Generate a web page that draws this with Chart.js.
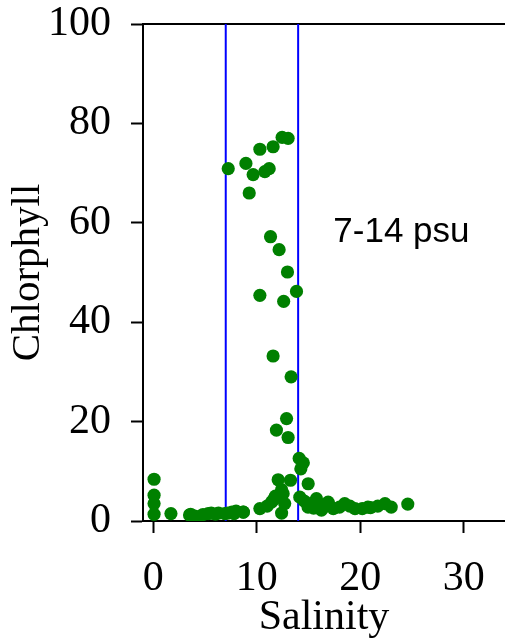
<!DOCTYPE html>
<html>
<head>
<meta charset="utf-8">
<script src="https://cdn.jsdelivr.net/npm/chart.js@4/dist/chart.umd.min.js"></script>
<style>
  html, body { margin: 0; padding: 0; background: #fff; }
  #wrap { width: 505px; height: 643px; }
</style>
</head>
<body>
<div id="wrap"><canvas id="salChart"></canvas></div>
<script>
// salinity (psu) of each sample
const salinity = [
    0.07, 0.07, 0.07, 0.07, 1.7, 3.5, 3.6, 4.0, 4.35, 4.8, 5.3, 5.6, 6.0, 6.3, 6.9, 7.2, 7.6, 7.8, 8.0, 8.7, 8.7,
    7.24, 8.95, 9.65, 9.27, 10.3, 11.58, 10.78, 11.2, 12.45, 13.03,
    11.33, 12.16, 12.97, 10.3, 12.6, 13.84,
    11.58, 13.32, 12.88, 11.9, 13.03,
    14.1, 14.5, 14.26, 12.07, 13.26, 14.97, 12.4, 14.16, 11.58, 12.7, 10.3, 12.4, 11.43, 12.55, 11.0, 11.8,
    15.77, 14.96, 16.1, 16.9, 17.4, 18.5, 19.5, 20.75, 21.7, 22.4, 23.0, 24.6, 16.25,
    14.6, 15.2, 15.5, 16.5, 17.0, 18.0, 19.0, 20.2, 21.0
];
// chlorophyll of each sample
const chlorophyll = [
    8.4, 5.2, 3.5, 1.35, 1.5, 1.2, 1.35, 1.0, 0.8, 1.3, 1.5, 1.6, 1.4, 1.6, 1.5, 1.6, 1.8, 1.5, 2.0, 1.8, 1.8,
    70.9, 71.95, 69.7, 66.0, 74.8, 75.3, 70.3, 70.9, 77.2, 77.0,
    57.2, 54.6, 50.1, 45.4, 44.2, 46.2,
    33.2, 29.0, 20.6, 18.3, 16.8,
    12.6, 11.7, 10.5, 8.3, 8.2, 7.5, 6.3, 4.8, 4.2, 3.5, 2.5, 1.6, 3.8, 5.5, 3.0, 5.0,
    4.5, 2.8, 3.2, 3.8, 2.5, 3.5, 2.5, 2.8, 3.0, 3.5, 2.8, 3.4, 2.2,
    4.0, 3.5, 2.6, 2.8, 3.2, 2.8, 3.0, 2.5, 2.7
];
// salinity window marked with the two blue lines
const windowBounds = [7, 14];
const windowLabel = '7-14 psu';
const xTicks = [0, 10, 20, 30];
const yTicks = [0, 20, 40, 60, 80, 100];

const serif = 'Liberation Serif';

const windowText = {
    id: 'windowText',
    afterDatasetsDraw(chart) {
        const ctx = chart.ctx;
        ctx.save();
        ctx.font = '35px "Liberation Sans"';
        ctx.fillStyle = '#000';
        ctx.textAlign = 'left';
        ctx.textBaseline = 'alphabetic';
        ctx.fillText(windowLabel, chart.scales.x.getPixelForValue(17.4), chart.scales.y.getPixelForValue(56.1));
        ctx.restore();
    }
};

function drawScatter() {
    const ctx = document.getElementById('salChart').getContext('2d');
    const points = salinity.map((s, i) => ({ x: s, y: chlorophyll[i] }));
    const lines = windowBounds.map(b => ({
        type: 'line',
        data: [{ x: b, y: 0 }, { x: b, y: 100 }],
        borderColor: '#0000ff',
        borderWidth: 2,
        pointRadius: 0,
        order: 2
    }));

    new Chart(ctx, {
        type: 'scatter',
        data: {
            datasets: [
                {
                    label: 'Chlorophyll',
                    data: points,
                    backgroundColor: '#008000',
                    borderWidth: 0,
                    pointRadius: 6.6,
                    order: 1
                },
                ...lines
            ]
        },
        options: {
            responsive: true,
            maintainAspectRatio: false,
            animation: false,
            devicePixelRatio: 1,
            layout: { padding: 0, autoPadding: false },
            plugins: {
                legend: { display: false },
                tooltip: { enabled: false }
            },
            scales: {
                x: {
                    min: -1,
                    max: 34,
                    afterBuildTicks: s => { s.ticks = xTicks.map(v => ({ value: v })); },
                    afterFit: s => { s.height = 122; s.paddingLeft = 0; s.paddingRight = 0; },
                    grid: { drawOnChartArea: false, tickLength: 12, tickColor: '#000', tickWidth: 2 },
                    border: { display: true, color: '#000', width: 2 },
                    ticks: { color: '#000', padding: 21, maxRotation: 0, font: { family: serif, size: 42 } },
                    title: { display: true, text: 'Salinity', color: '#000', padding: 0, font: { family: serif, size: 42 } }
                },
                xTop: {
                    type: 'linear',
                    position: 'top',
                    min: -1,
                    max: 34,
                    afterFit: s => { s.height = 24; s.paddingLeft = 0; s.paddingRight = 0; },
                    grid: { display: false },
                    border: { display: true, color: '#000', width: 2 },
                    ticks: { display: false }
                },
                y: {
                    min: 0,
                    max: 100,
                    afterBuildTicks: s => { s.ticks = yTicks.map(v => ({ value: v })); },
                    afterFit: s => { s.width = 143; s.paddingTop = 0; s.paddingBottom = 0; },
                    grid: { drawOnChartArea: false, tickLength: 12, tickColor: '#000', tickWidth: 2 },
                    border: { display: true, color: '#000', width: 2 },
                    ticks: { color: '#000', padding: 20, font: { family: serif, size: 42 } },
                    title: { display: true, text: 'Chlorphyll', color: '#000', padding: { top: 4, bottom: 0 }, font: { family: serif, size: 41 } }
                }
            }
        },
        plugins: [windowText]
    });
}

document.addEventListener('DOMContentLoaded', drawScatter);
</script>
</body>
</html>
